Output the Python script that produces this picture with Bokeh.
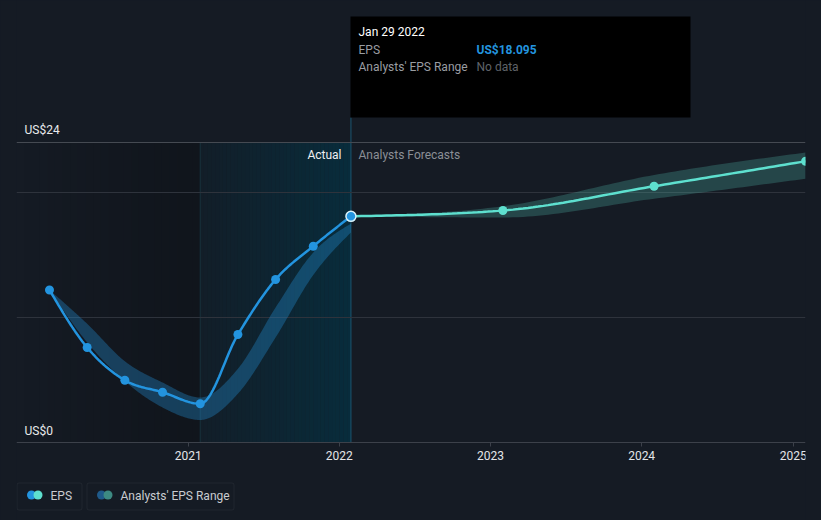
import numpy as np
import pandas as pd
from bokeh.plotting import figure
from bokeh.models import (Range1d, FixedTicker, DatetimeTickFormatter, Label,
                          BoxAnnotation, Span)
from bokeh.embed import file_html
from bokeh.resources import INLINE

# ---------------- data ----------------
actual_dates = ["2020-02-01", "2020-05-02", "2020-08-01", "2020-10-31", "2021-01-30",
                "2021-05-01", "2021-07-31", "2021-10-30", "2022-01-29"]
actual_eps = [12.2, 7.6, 4.98, 4.02, 3.1, 8.64, 13.04, 15.7, 18.095]
past_range_low = [12.2, 8.0, 4.9, 2.8, 1.8, 3.9, 8.4, 13.4, 16.8]
past_range_high = [12.2, 9.5, 6.5, 4.8, 3.6, 5.9, 10.8, 15.2, 17.5]

forecast_dates = ["2022-01-29", "2023-01-31", "2024-01-31", "2025-01-31"]
forecast_eps = [18.095, 18.56, 20.5, 22.5]
forecast_low = [18.095, 18.0, 19.5, 21.1]
forecast_high = [18.095, 18.9, 21.4, 23.2]

year_ticks = ["2021-01-01", "2022-01-01", "2023-01-01", "2024-01-01", "2025-01-01"]
y_grid_values = [10, 20]
y_top_value = 24
y_top_label = "US$24"
y_zero_label = "US$0"
tooltip_date = "Jan 29 2022"
tooltip_eps = "US$18.095"

# ---------------- helpers ----------------
def to_ms(dates):
    return pd.to_datetime(dates).values.astype("datetime64[ms]").astype("int64").astype(float)


def monotone(xs, ys, n=30):
    xs = np.asarray(xs, float)
    ys = np.asarray(ys, float)
    k = len(xs)
    h = np.diff(xs)
    s = np.diff(ys) / h
    m = np.zeros(k)
    for i in range(1, k - 1):
        if s[i - 1] * s[i] <= 0:
            m[i] = 0.0
        else:
            pp = (s[i - 1] * h[i] + s[i] * h[i - 1]) / (h[i - 1] + h[i])
            m[i] = (np.sign(s[i - 1]) + np.sign(s[i])) * min(abs(s[i - 1]), abs(s[i]), 0.5 * abs(pp))
    m[0] = (3 * s[0] - m[1]) / 2 if k > 2 else s[0]
    m[-1] = (3 * s[-1] - m[-2]) / 2 if k > 2 else s[-1]
    ox, oy = [], []
    for i in range(k - 1):
        t = np.linspace(0, 1, n, endpoint=(i == k - 2))
        h00 = 2 * t**3 - 3 * t**2 + 1
        h10 = t**3 - 2 * t**2 + t
        h01 = -2 * t**3 + 3 * t**2
        h11 = t**3 - t**2
        ox.extend(xs[i] + t * h[i])
        oy.extend(h00 * ys[i] + h10 * h[i] * m[i] + h01 * ys[i + 1] + h11 * h[i] * m[i + 1])
    return np.array(ox), np.array(oy)


# ---------------- layout mapping (page pixels) ----------------
BG = "#151b24"
FONT = "Roboto"
W, H = 821, 520
X_START = to_ms(["2019-11-13 08:00"])[0]
X_END = to_ms(["2025-01-30 17:00"])[0]
FRAME_L, FRAME_R = 16, 805
Y_START, Y_END = (442 - H) / 12.5, 442 / 12.5


def px2x(px):
    return X_START + (px - FRAME_L) / (FRAME_R - FRAME_L) * (X_END - X_START)


def py2y(py):
    return (442 - py) / 12.5


p = figure(width=W, height=H, x_axis_type="datetime", output_backend="svg",
           toolbar_location=None, min_border_left=FRAME_L, min_border_right=W - FRAME_R,
           min_border_top=0, min_border_bottom=0,
           x_range=Range1d(X_START, X_END), y_range=Range1d(Y_START, Y_END))
p.styles = {"background-color": BG}
p.background_fill_color = BG
p.border_fill_color = BG
p.outline_line_color = None
p.yaxis.visible = False
p.xgrid.visible = False
p.ygrid.ticker = FixedTicker(ticks=y_grid_values)
p.ygrid.grid_line_color = "#2e333c"
p.ygrid.grid_line_width = 1

ax = p.xaxis[0]
ax.fixed_location = 0
ax.ticker = FixedTicker(ticks=list(to_ms(year_ticks)))
ax.formatter = DatetimeTickFormatter(years="%Y", months="%Y", days="%Y", hours="%Y",
                                     minutes="%Y", seconds="%Y", milliseconds="%Y")
ax.axis_line_color = "#3c414a"
ax.major_tick_line_color = "#3c414a"
ax.major_tick_out = 4
ax.major_tick_in = 0
ax.minor_tick_line_color = None
ax.major_label_text_color = "#e3e5e8"
ax.major_label_text_font = FONT
ax.major_label_text_font_size = "12px"
ax.major_label_standoff = 4

p.add_layout(Span(location=y_top_value, dimension="width", line_color="#454a52", line_width=1,
                  level="underlay"))

# ---------------- background regions (inside the 0..24 plot band) ----------------
a_ms = to_ms(actual_dates)
f_ms = to_ms(forecast_dates)
hl_start, hl_end = a_ms[4], a_ms[-1]

nL = 24
edges = np.linspace(X_START, hl_start, nL + 1)
p.quad(left=edges[:-1], right=edges[1:], bottom=0, top=y_top_value,
       fill_color="black", fill_alpha=np.linspace(0.0, 0.22, nL), line_color=None,
       level="underlay")
nT = 40
edges = np.linspace(hl_start, hl_end, nT + 1)
p.quad(left=edges[:-1], right=edges[1:], bottom=0, top=y_top_value,
       fill_color="#00384c", fill_alpha=np.linspace(0.12, 0.6, nT), line_color=None,
       level="underlay")
p.segment(x0=[hl_start], x1=[hl_start], y0=[0], y1=[y_top_value],
          line_color="#17323e", line_width=1, level="underlay")
p.segment(x0=[hl_end], x1=[hl_end], y0=[0], y1=[py2y(117)],
          line_color="#1b5670", line_width=1, level="underlay")

# ---------------- bands ----------------
bx, blo = monotone(a_ms, past_range_low)
_, bhi = monotone(a_ms, past_range_high)
p.varea(x=bx, y1=blo, y2=bhi, fill_color="#2394df", fill_alpha=0.33)

fx, flo = monotone(f_ms, forecast_low)
_, fhi = monotone(f_ms, forecast_high)
p.varea(x=fx, y1=flo, y2=fhi, fill_color="#5ee0cf", fill_alpha=0.22)

# ---------------- lines ----------------
lx, ly = monotone(a_ms, actual_eps)
p.line(lx, ly, line_color="#2394df", line_width=2.5)
p.scatter(a_ms[:-1], actual_eps[:-1], size=9, fill_color="#2394df", line_color=None)

gx, gy = monotone(f_ms, forecast_eps)
p.line(gx, gy, line_color="#5ee0cf", line_width=2.5)
p.scatter(f_ms[1:], forecast_eps[1:], size=9, fill_color="#5ee0cf", line_color=None)

p.scatter([a_ms[-1]], [actual_eps[-1]], size=10, fill_color="#2394df",
          line_color="#d8f3fb", line_width=1.5)

# ---------------- texts ----------------
def lab(x, y, text, color, size="12px", align="left", style="normal"):
    p.add_layout(Label(x=x, y=y, text=text, text_color=color, text_font=FONT,
                       text_font_size=size, text_align=align, text_baseline="middle",
                       text_font_style=style))


lab(px2x(24), py2y(129.5), y_top_label, "#e8eaec")
lab(px2x(24), py2y(430.5), y_zero_label, "#e8eaec")
lab(px2x(341), py2y(154.5), "Actual", "#eef0f2", align="right")
lab(px2x(358), py2y(154.5), "Analysts Forecasts", "#8b8f96")

# tooltip
p.add_layout(BoxAnnotation(left=px2x(350), right=px2x(690), top=py2y(16), bottom=py2y(117),
                           fill_color="black", fill_alpha=1, line_color=None))
for yy in (41.5, 58.5, 109.5):
    p.segment(x0=[px2x(358)], x1=[px2x(682)], y0=[py2y(yy)], y1=[py2y(yy)],
              line_color="#3a3a3a", line_width=1)
lab(px2x(358), py2y(31), tooltip_date, "#ffffff")
lab(px2x(358), py2y(49.5), "EPS", "#9a9da2")
lab(px2x(476), py2y(49.5), tooltip_eps, "#2394df", style="bold")
lab(px2x(358), py2y(66.5), "Analysts' EPS Range", "#9a9da2")
lab(px2x(476), py2y(66.5), "No data", "#5f6368")

# legend
for l, r in ((16.5, 81.5), (86.5, 233.5)):
    p.add_layout(BoxAnnotation(left=px2x(l), right=px2x(r), top=py2y(482.5), bottom=py2y(509.5),
                               fill_alpha=0, line_color="#3d424b", line_width=1,
                               border_radius=2))
p.scatter([px2x(31)], [py2y(494.5)], size=9, fill_color="#2394df", line_color=None)
p.scatter([px2x(37.5)], [py2y(494.5)], size=9, fill_color="#5ee0cf", line_color=None)
p.scatter([px2x(101)], [py2y(494.5)], size=9, fill_color="#1f5a8a", line_color=None)
p.scatter([px2x(107.5)], [py2y(494.5)], size=9, fill_color="#3d8a82", line_color=None)
lab(px2x(50), py2y(495), "EPS", "#c9ccd0")
lab(px2x(120), py2y(495), "Analysts' EPS Range", "#c9ccd0")

open("out.html", "w").write(file_html(p, INLINE))
